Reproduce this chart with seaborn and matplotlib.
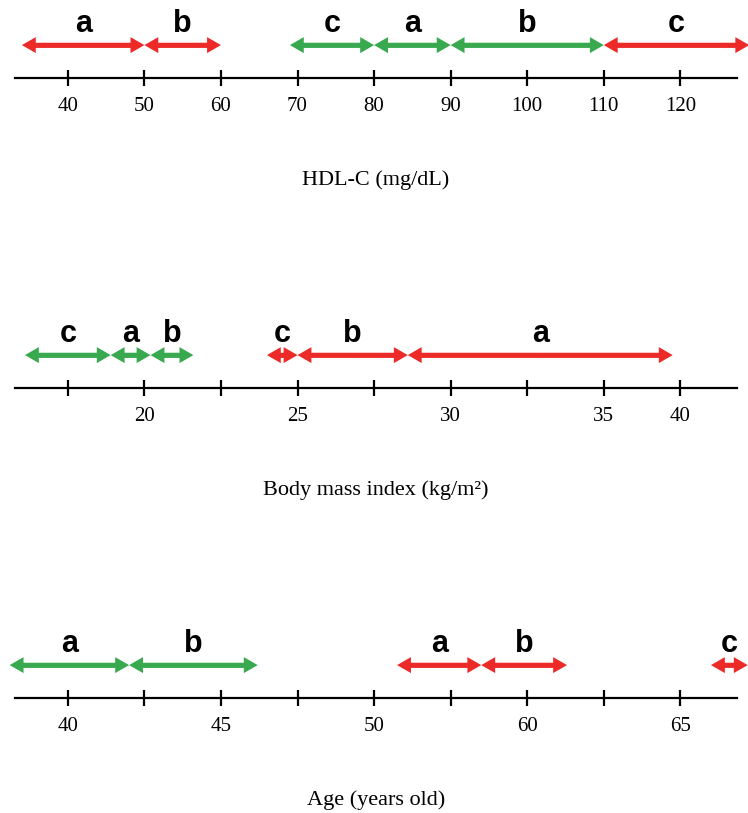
import numpy as np
import matplotlib
matplotlib.use('Agg')
import matplotlib.pyplot as plt
import seaborn as sns

# %% Data: cut-off ranges.
hdl_ticks = [40, 50, 60, 70, 80, 90, 100, 110, 120]
hdl_labels = ['40', '50', '60', '70', '80', '90', '100', '110', '120']
hdl_lo = [34, 50, 69, 80, 90, 110]
hdl_hi = [50, 60, 80, 90, 110, 129]
hdl_grp = ['a', 'b', 'c', 'a', 'b', 'c']
hdl_col = ['red', 'red', 'green', 'green', 'green', 'red']

bmi_ticks = [17.5, 20, 22.5, 25, 27.5, 30, 32.5, 35, 40]
bmi_labels = ['', '20', '', '25', '', '30', '', '35', '40']
bmi_lo = [16.1, 18.9, 20.2, 24.0, 25.0, 28.6]
bmi_hi = [18.9, 20.2, 21.6, 25.0, 28.6, 39.5]
bmi_grp = ['c', 'a', 'b', 'c', 'b', 'a']
bmi_col = ['green', 'green', 'green', 'red', 'red', 'red']

age_ticks = [40, 42.5, 45, 47.5, 50, 55, 60, 62.5, 65]
age_labels = ['40', '', '45', '', '50', '', '60', '', '65']
age_lo = [38.1, 42.0, 51.5, 57.0, 66.0]
age_hi = [42.0, 46.2, 57.0, 61.3, 67.2]
age_grp = ['a', 'b', 'a', 'b', 'c']
age_col = ['green', 'green', 'red', 'red', 'red']

panels = [
    ('HDL-C (mg/dL)', hdl_ticks, hdl_labels, hdl_lo, hdl_hi, hdl_grp, hdl_col),
    ('Body mass index (kg/m\u00b2)', bmi_ticks, bmi_labels, bmi_lo, bmi_hi, bmi_grp, bmi_col),
    ('Age (years old)', age_ticks, age_labels, age_lo, age_hi, age_grp, age_col),
]
palette = {'red': '#EC2A27', 'green': '#38A94E'}


def make_scale(ticks):
    # ticks are evenly spaced on the drawing, whatever their values
    t = np.asarray(ticks, float)
    p = np.arange(len(t), dtype=float)
    tt = np.r_[t[0] - 20 * (t[1] - t[0]), t, t[-1] + 20 * (t[-1] - t[-2])]
    pp = np.r_[-20, p, p[-1] + 20]
    return (lambda v: np.interp(v, tt, pp)), (lambda q: np.interp(q, pp, tt))


# %% Draw.
sns.set_theme(style='white')
plt.rcParams['font.family'] = ['Liberation Serif', 'DejaVu Serif']

W, H = 748, 813
fig = plt.figure(figsize=(W / 100, H / 100), dpi=100)
line_y = [78, 388, 698]
head = 'simple,head_length=1.0,head_width=1.15,tail_width=0.34'

for (title, ticks, labels, lo, hi, grp, col), y in zip(panels, line_y):
    fwd, inv = make_scale(ticks)
    ax = fig.add_axes([15 / W, 1 - y / H, 722 / W, 70 / H])
    ax.set_xscale('function', functions=(fwd, inv))
    ax.set_xlim(inv(-0.69), inv(8.74))
    ax.set_ylim(0, 1)
    ax.set_yticks([])
    ax.set_xticks(ticks, labels)
    ax.xaxis.set_minor_locator(matplotlib.ticker.NullLocator())
    sns.despine(ax=ax, left=True)
    ax.spines['bottom'].set_linewidth(1.6)
    ax.spines['bottom'].set_color('black')
    ax.tick_params(axis='x', direction='inout', length=12, width=1.6, pad=8,
                   labelsize=15, colors='black', bottom=True)
    ax.set_xlabel(title, fontsize=16, labelpad=39, color='black')

    for l, h, g, c in zip(lo, hi, grp, col):
        m = (fwd(l) + fwd(h)) / 2
        # double-headed arrow: two filled halves out from the middle, one shaft on top
        for end in (l, h):
            ax.annotate('', xy=(end, 0.47), xytext=(inv(m), 0.47), annotation_clip=False,
                        arrowprops=dict(arrowstyle=head, mutation_scale=10, lw=0,
                                        color=palette[c], shrinkA=0, shrinkB=0,
                                        clip_on=False))
        ax.hlines(0.47, inv(fwd(l) + 0.1), inv(fwd(h) - 0.1), color=palette[c], lw=3.4,
                  capstyle='butt', clip_on=False, zorder=3)
        ax.text(inv(m), 0.66, g, ha='center', va='baseline', fontsize=22, fontweight='bold',
                color='black', family=['Liberation Sans', 'DejaVu Sans'], clip_on=False)

fig.savefig('out.png', dpi=100)
